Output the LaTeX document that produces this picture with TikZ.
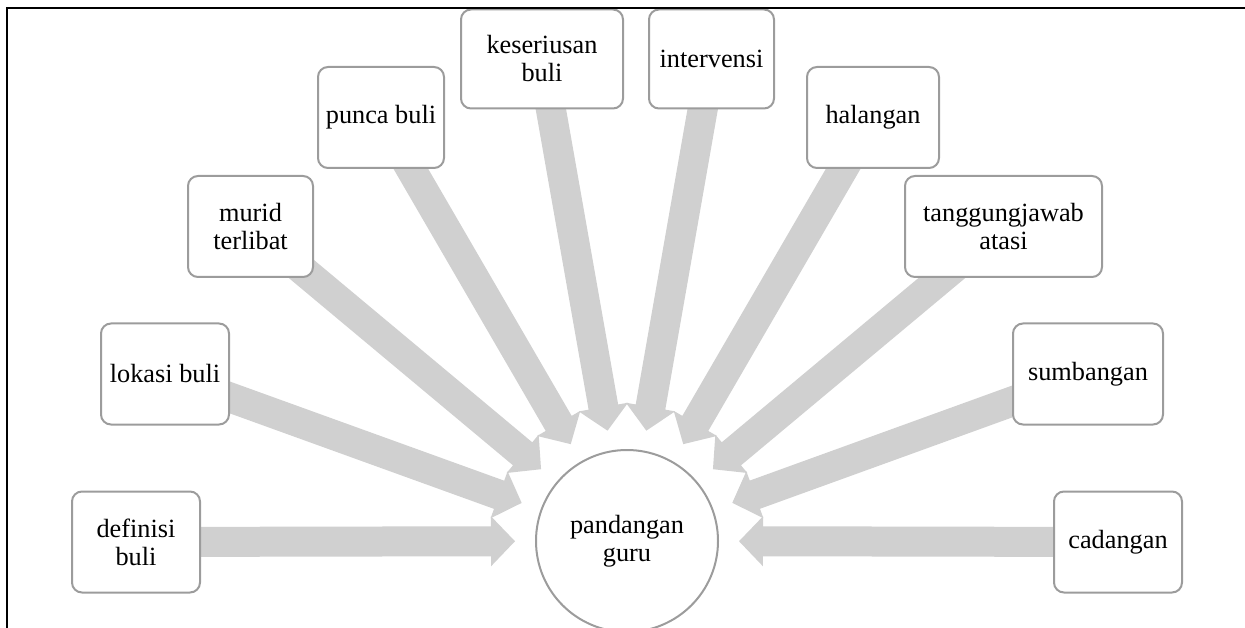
\documentclass[tikz,border=0pt]{standalone}
\usepackage{fontspec}
\setmainfont{Liberation Serif}
\usetikzlibrary{calc,backgrounds}
\definecolor{arrowgray}{HTML}{D0D0D0}
\definecolor{boxgray}{HTML}{9C9C9C}
\newcommand\myray[1]{%
  \coordinate (t) at ($(c)!112pt!(#1)$);
  \coordinate (h) at ($(c)!136pt!(#1)$);
  \fill[ray] ($(#1)!15pt!90:(c)$) -- ($(h)!15pt!-90:(#1)$) -- ($(h)!25pt!-90:(#1)$)
    -- (t) -- ($(h)!25pt!90:(#1)$) -- ($(h)!15pt!90:(#1)$) -- ($(#1)!15pt!-90:(c)$) -- cycle;}
\begin{document}
\begin{tikzpicture}[x=1pt,y=-1pt,
  topic/.style={draw=boxgray, line width=2pt, fill=white, rounded corners=10pt,
    align=center, inner sep=0pt, minimum height=101pt,
    font=\fontsize{26.3pt}{28pt}\selectfont},
  hub/.style={circle, draw=boxgray, line width=2pt, fill=white, minimum size=182pt,
    inner sep=0pt, align=center, font=\fontsize{26.3pt}{28pt}\selectfont},
  ray/.style={fill=arrowgray},
  frameline/.style={line width=2.5pt, black}]
\useasboundingbox (0,0) rectangle (1245,628);
\node[hub] (c) at (627,541) {pandangan\\guru};
\node[topic, minimum width=128pt] (n1) at (136,542) {definisi\\buli};
\node[topic, minimum width=128pt] (n2) at (165,374) {lokasi buli};
\node[topic, minimum width=125pt] (n3) at (250.5,226.5) {murid\\terlibat};
\node[topic, minimum width=126pt] (n4) at (381,117.5) {punca buli};
\node[topic, minimum width=162pt, minimum height=99pt] (n5) at (542,59) {keseriusan\\buli};
\node[topic, minimum width=125pt, minimum height=99pt] (n6) at (711.5,59) {intervensi};
\node[topic, minimum width=132pt] (n7) at (873,117.5) {halangan};
\node[topic, minimum width=197pt] (n8) at (1003.5,226.5) {tanggungjawab\\atasi};
\node[topic, minimum width=150pt] (n9) at (1088,374) {sumbangan};
\node[topic, minimum width=128pt] (n10) at (1118,542) {cadangan};
\begin{pgfonlayer}{background}
  \foreach \k in {n1,n2,n3,n4,n5,n6,n7,n8,n9,n10} {\myray{\k}}
\end{pgfonlayer}
\draw[frameline] (7,628) -- (7,8) -- (1245,8);
\end{tikzpicture}
\end{document}
